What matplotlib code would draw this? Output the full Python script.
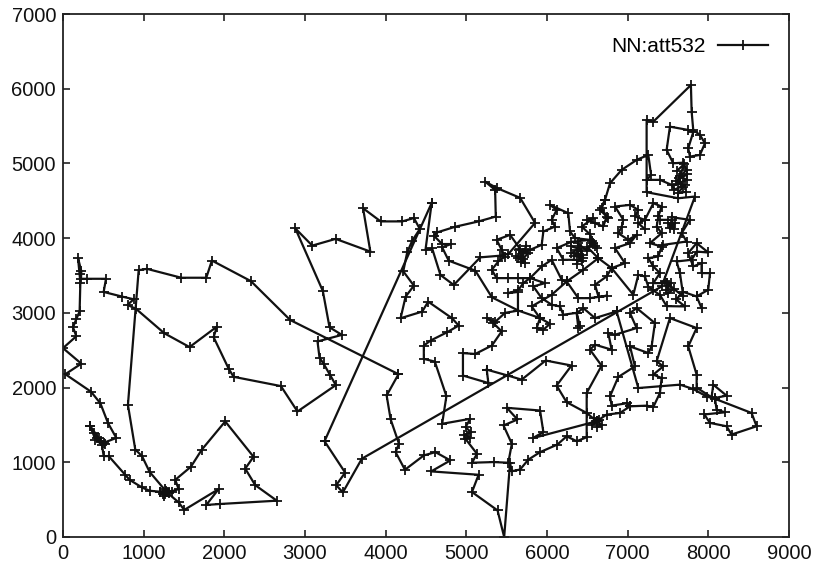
import matplotlib
matplotlib.use('Agg')
from matplotlib import pyplot as plt

plt.rcParams['font.family'] = ['Liberation Sans', 'DejaVu Sans']

xticks = [0, 1000, 2000, 3000, 4000, 5000, 6000, 7000, 8000, 9000]
yticks = [0, 1000, 2000, 3000, 4000, 5000, 6000, 7000]
label = 'NN:att532'

# pieces of the tour
west = [(4159,2179),(2817,2904),(2329,3425),(1846,3700),(1776,3470),(1466,3470),(1041,3589),(938,3571),
        (805,1768),(896,1171),(979,1083),(1074,871),(1289,597),(1433,464),(1503,362),(1929,641),(1776,429),
        (1949,442),(2651,486),(2383,694),(2259,915),(2362,1074),(2011,1547),(1722,1171),(1586,941),(1392,765),
        (1433,641),(1309,597),(1268,575),(1206,606),(1074,619),(979,663),(826,765),(772,831),(566,1083),
        (504,1083),(483,1238),(401,1304),(339,1481),(442,1326),(504,1260),(661,1326),(558,1525),(463,1790),
        (347,1945),(29,2179),(227,2320),(0,2528),(165,2687),(124,2807),(165,2917),(206,3019),(215,3403),
        (206,3514),(186,3735),(227,3558),(223,3456),(297,3456),(533,3456),(504,3280),(731,3218),(876,3182),
        (801,3107),(909,3050),(1256,2727),(1569,2542),(1908,2816),(1867,2674),(2053,2254),(2115,2144),
        (2701,2020),(2907,1680),(3382,2033),(3312,2166),(3230,2320),(3180,2400),(3155,2617),(3457,2705),
        (3304,2807),(3221,3293),(2880,4130),(3090,3900),(3380,3990),(3810,3820),(3720,4400),(3938,4224),
        (4206,4224),(4350,4269),(4424,4122),(4329,3966),(4267,3810),(4218,3556),(4350,3364),(4247,3217),
        (4185,2928),(4453,3017),(4527,3150),(4823,2928),(4905,2830),(4761,2740),(4556,2629),(4473,2562),
        (4473,2384),(4609,2348),(4753,1885),(4700,1515),(5049,1582),(4990,1470),(5060,1400),(4970,1370),
        (5049,1330),(4988,1315),(5132,1114),(5070,994),(5337,1003),(5520,994),(5564,1248),(5461,1493),
        (5634,1573),(5502,1729),(5914,1693),(5955,1404),(5823,1323),(6615,1549)]
south = [(4159,2179),(4012,1894),(4062,1573),(4165,1248),(4123,1136),(4239,900),(4473,1092),(4617,1136),
         (4802,1025),(4564,878),(5152,833),(5070,602),(5387,356),(5469,0),(5542,992),(5562,880),(5666,903),
         (5769,1036),(5913,1135),(6128,1237),(6244,1348),(6368,1282),(6492,1335),(6492,1928),(6677,2293),
         (6533,2507),(6595,2574),(6801,2507),(6760,2730),(6843,2707),(7111,2797),(7029,2997),(7111,3064),
         (7338,2863),(7297,2551),(7256,2462),(7029,2551),(7090,2284),(6884,2142),(6781,1883),(6801,1758),
         (6990,1790),(7029,1749)]
gulf = [(5253,2240),(5273,2061),(4958,2161),(4958,2461),(5111,2450),(5317,2563),(5438,2752),(5335,2863),
        (5253,2930),(5358,2880),(5480,3000),(5640,3030),(5640,3280),(5521,3264),(5640,3300),(5707,3398),
        (5790,3465),(5645,3465),(5521,3465),(5376,3465),(5315,3576),(5397,3688),(5480,3754),(5438,3843),
        (5376,3977),(5542,4044),(5670,3850),(5727,3665),(5645,3732),(5707,3799),(5790,3843),(5934,3910),
        (5955,4089),(6099,4155),(6058,4245),(6120,4378),(6037,4445),(6264,4334),(6285,4089),(6347,4000),
        (6533,3977),(6300,3950),(6120,3866),(6202,3710),(6368,3710),(6430,3688),(6368,3843),(6300,3800),
        (6430,3780),(6368,3660)]
texas = [(6615,1549),(6492,1660),(6243,1805),(6119,2027),(6304,2295),(5983,2362),(5686,2106),(5521,2159),(5253,2240)]
southeast = [(6863,3019),(7132,1994),(7648,2039),(7813,1981),(7978,1880),(8082,1850),(8536,1660),(8598,1482),
             (8288,1371),(8226,1482),(8020,1527),(7950,1640),(8206,1669),(8102,1705),(8082,1861),(8226,1892),
             (8061,2039),(8040,1870),(7855,2000),(7855,2173),(7751,2551),(7855,2797),(7524,2930),(7359,2351),
             (7441,2284),(7318,2173),(7421,2128),(7400,1928),(7318,1740),(7235,1758),(7029,1749),(6905,1660),
             (6739,1638),(6615,1549)]
arrival = [(3242,1282),(3498,862),(3387,694),(3469,597),(3705,1048),(7421,3353),(7834,4557),(7627,4534),
           (7235,4615),(7235,5582),(7318,5559),(7784,6049),(7793,5693),(7813,5448),(7896,5381),(7958,5270),
           (7896,5114),(7772,5091),(7751,5203),(7813,5420),(7751,5448),(7524,5492),(7483,5181),(7565,5002),
           (7690,5010),(7731,4913),(7650,4830),(7730,4780),(7620,4730),(7710,4710),(7580,4650),(7545,4713),
           (7400,4780),(7235,4780),(7290,4846),(7256,5114),(7111,5047),(6925,4913),(6781,4735),(6719,4512),
           (6678,4401),(6739,4289),(6698,4156),(6595,4200),(6491,4245),(6574,4267),(6430,4155),(6533,4050),
           (6615,3866),(6574,3933),(6500,3880),(6636,3732)]
upper_mid = [(6760,4267),(6657,4378),(6719,4512)]
zigzag = [(7214,4120),(7132,4200),(7214,4245),(7090,4290),(7132,4378),(7029,4445),(6843,4423),(6946,4245),
          (6925,4150),(6884,4066),(7008,3977),(7111,4044),(7029,3933),(6843,3866),(6966,3665),(6801,3599),
          (6636,3732),(6450,3576),(6244,3420),(6388,3197),(6533,3197),(6739,3229),(6640,3210),(6595,3376),
          (6739,3487),(6801,3599),(7070,3242),(7132,3509),(7214,3487),(7256,3350),(7318,3300),(7400,3240),
          (7483,3090),(7710,3086),(7600,3180),(7690,3280),(7855,3220)]
column = [(7214,4245),(7318,4468),(7421,4423),(7380,4290),(7360,4155),(7421,4066),(7276,3933),(7421,3888),
          (7380,3755),(7256,3732),(7318,3621),(7400,3532),(7318,3398),(7483,3398)]
star = [(7400,4245),(7545,4245),(7520,4130),(7590,4200),(7500,4200),(7570,4120),(7545,4280),(7772,4245),
        (7669,4067),(7731,3955),(7441,3910)]
east = [(7483,3398),(7690,3220),(7648,3532),(7607,3688),(7793,3710),(7855,3820),(7999,3808),(7855,3933),
        (7750,3800),(7813,3621),(7916,3666),(7916,3532),(8020,3532),(7999,3309),(7855,3220),(7916,3064)]
north = [(4570,4470),(3242,1282)]
ohio = [(4570,4470),(4494,3846),(4576,3863),(4679,3507),(4844,3373),(5173,3743),(5420,3765),(5522,3788),
        (5852,4204),(5667,4539),(5380,4670),(5233,4757),(5357,4646),(5365,4289),(5152,4224),(4864,4153),
        (4638,4077),(4597,4033),(4700,3921),(4811,3921),(4700,3877),(4782,3698),(5111,3565),(5317,3208),
        (5646,3030),(5913,2930),(5872,2796),(5955,2774),(6037,2854),(5913,2930),(5810,3086),(6058,3242),
        (6244,3420),(6182,3443),(6058,3710),(5934,3621),(5790,3465),(5975,3398),(5831,3353),(5934,3197),
        (6058,3108),(6161,3086),(6202,2975),(6368,3000),(6409,2819),(6388,2797),(6368,2997),(6450,3064),
        (6595,2930),(6863,3019)]
# places where the cities sit almost on top of each other
gulf_coast = [(1206,606),(1240,570),(1280,620),(1250,550),(1320,590),(1270,640),(1350,600)]
florida_keys = [(340,1480),(380,1390),(420,1320),(470,1280),(520,1250)]
maine = [(7610,4900),(7700,4990),(7640,4800),(7740,4860),(7600,4760),(7690,4690),(7620,4600),(7720,4620)]
great_lakes = [(5620,3760),(5700,3720),(5650,3840),(5760,3800),(5680,3680),(5740,3900)]
ohio_valley = [(6300,3890),(6420,3850),(6340,3760),(6450,3740),(6380,3930),(6500,3830),(6560,3960),(6600,3890)]
carolina = [(6560,1500),(6650,1560),(6580,1590),(6680,1500),(6620,1470)]
new_york = [(7480,3300),(7540,3400),(7460,3420),(7570,3320),(7500,3260)]

legs = [west, south, gulf, texas, southeast, arrival, upper_mid, zigzag, column, star, east, north, ohio,
        gulf_coast, florida_keys, maine, great_lakes, ohio_valley, carolina, new_york]

fig = plt.figure(figsize=(8.2, 5.68), dpi=100)
ax = fig.add_axes([63/820, 1-537/568, 726/820, 523/568])

for i, leg in enumerate(legs):
    xs = [p[0] for p in leg]
    ys = [p[1] for p in leg]
    ax.plot(xs, ys, color='#111111', lw=1.6, marker='+', ms=6.5, mew=1.3, label=label if i == 0 else None)

ax.set_xlim(0, 9000)
ax.set_ylim(0, 7000)
ax.set_xticks(xticks)
ax.set_yticks(yticks)
ax.tick_params(direction='in', top=True, right=True, length=5, width=1.1, labelsize=14.5, colors='#111111', pad=5)
for s in ax.spines.values():
    s.set_linewidth(1.3)
    s.set_color('#222222')

ax.legend(loc='upper right', frameon=False, markerfirst=False, numpoints=1, fontsize=15,
          handlelength=2.4, handletextpad=0.6, borderaxespad=0.5, bbox_to_anchor=(0.997, 0.992))

plt.savefig('out.png', dpi=100)
